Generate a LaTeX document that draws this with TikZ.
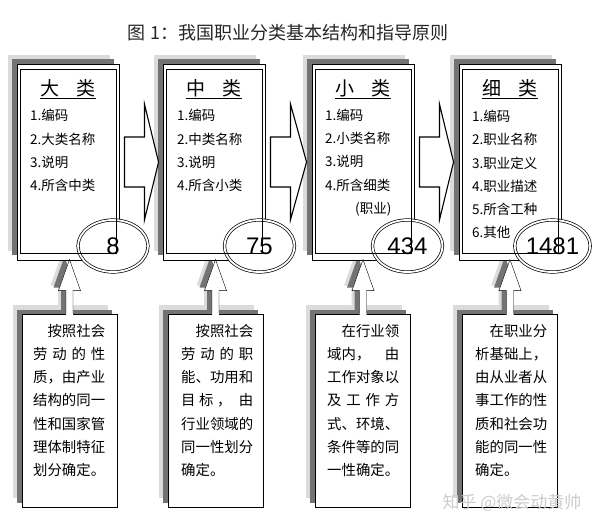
\documentclass[tikz,border=0pt]{standalone}
\usepackage{fontspec}
\setmainfont{Noto Sans CJK SC}
\newfontfamily\arialfont{Liberation Sans}
\usetikzlibrary{shapes.geometric,calc,backgrounds}

\begin{document}
\begin{tikzpicture}[x=1pt,y=-1pt,line width=0.9pt,
  topbox/.style={draw,fill=white,minimum width=102pt,minimum height=196pt,inner sep=0pt},
  basebox/.style={draw,fill=white,minimum width=95pt,minimum height=193pt,inner sep=0pt},
  darkshade/.style={fill=black!55},
  lightshade/.style={fill=black!14},
  numell/.style={ellipse,draw,double,double distance=1.8pt,line width=0.7pt,fill=white,
    minimum width=70pt,minimum height=52pt,inner sep=0pt,font=\arialfont\fontsize{24}{24}\selectfont},
  headtext/.style={font=\fontsize{19}{19}\selectfont},
  itemtext/.style={anchor=west,align=left,inner sep=0pt,font=\fontsize{13.5}{23.3}\selectfont},
  basetext/.style={anchor=west,align=left,inner sep=0pt,font=\fontsize{14.4}{23.3}\selectfont},
  blockarrow/.style={draw=black,line width=1.1pt,fill=white}]
\useasboundingbox (0,0) rectangle (600,531);

% title
\node[font=\fontsize{18}{18}\selectfont,text=black!85] (biaoti) at (288,33) {图 1：我国职业分类基本结构和指导原则};

% top boxes
\node[topbox] (dalei) at (68,162) {};
\node[topbox] (zhonglei) at (214,162) {};
\node[topbox] (xiaolei) at (363,162) {};
\node[topbox] (xilei) at (510,162) {};

% bottom boxes
\node[basebox] (yuanze1) at (69.5,410.5) {};
\node[basebox] (yuanze2) at (215.5,410.5) {};
\node[basebox] (yuanze3) at (363,410.5) {};
\node[basebox] (yuanze4) at (510,410.5) {};

% shadows
\begin{pgfonlayer}{background}
\fill[lightshade] ([shift={(-9,-9)}]dalei.north west) rectangle ([shift={(-9,-9)}]dalei.south east);
\fill[lightshade] ([shift={(-9,-9)}]zhonglei.north west) rectangle ([shift={(-9,-9)}]zhonglei.south east);
\fill[lightshade] ([shift={(-9,-9)}]xiaolei.north west) rectangle ([shift={(-9,-9)}]xiaolei.south east);
\fill[lightshade] ([shift={(-9,-9)}]xilei.north west) rectangle ([shift={(-9,-9)}]xilei.south east);
\fill[lightshade] ([shift={(-9,-9)}]yuanze1.north west) rectangle ([shift={(-9,-9)}]yuanze1.south east);
\fill[lightshade] ([shift={(-9,-9)}]yuanze2.north west) rectangle ([shift={(-9,-9)}]yuanze2.south east);
\fill[lightshade] ([shift={(-9,-9)}]yuanze3.north west) rectangle ([shift={(-9,-9)}]yuanze3.south east);
\fill[lightshade] ([shift={(-9,-9)}]yuanze4.north west) rectangle ([shift={(-9,-9)}]yuanze4.south east);
\fill[darkshade] ([shift={(-5,-5)}]dalei.north west) rectangle ([shift={(-5,-5)}]dalei.south east);
\fill[darkshade] ([shift={(-5,-5)}]zhonglei.north west) rectangle ([shift={(-5,-5)}]zhonglei.south east);
\fill[darkshade] ([shift={(-5,-5)}]xiaolei.north west) rectangle ([shift={(-5,-5)}]xiaolei.south east);
\fill[darkshade] ([shift={(-5,-5)}]xilei.north west) rectangle ([shift={(-5,-5)}]xilei.south east);
\fill[darkshade] ([shift={(-5,-4)}]yuanze1.north west) rectangle ([shift={(-5,-4)}]yuanze1.south east);
\fill[darkshade] ([shift={(-5,-4)}]yuanze2.north west) rectangle ([shift={(-5,-4)}]yuanze2.south east);
\fill[darkshade] ([shift={(-5,-4)}]yuanze3.north west) rectangle ([shift={(-5,-4)}]yuanze3.south east);
\fill[darkshade] ([shift={(-5,-4)}]yuanze4.north west) rectangle ([shift={(-5,-4)}]yuanze4.south east);
% shadows of the up arrows
\begin{scope}[shift={($(yuanze1.north)+(-8,-5)$)}]
\fill[lightshade] (-3.5,0) -- (-3.5,-23) -- (-11,-23) -- (0,-54) -- (11,-23) -- (3.5,-23) -- (3.5,0) -- cycle;
\end{scope}
\begin{scope}[shift={($(yuanze2.north)+(-8,-5)$)}]
\fill[lightshade] (-3.5,0) -- (-3.5,-23) -- (-11,-23) -- (0,-54) -- (11,-23) -- (3.5,-23) -- (3.5,0) -- cycle;
\end{scope}
\begin{scope}[shift={($(yuanze3.north)+(-8,-5)$)}]
\fill[lightshade] (-3.5,0) -- (-3.5,-23) -- (-11,-23) -- (0,-54) -- (11,-23) -- (3.5,-23) -- (3.5,0) -- cycle;
\end{scope}
\begin{scope}[shift={($(yuanze4.north)+(-8,-5)$)}]
\fill[lightshade] (-3.5,0) -- (-3.5,-23) -- (-11,-23) -- (0,-54) -- (11,-23) -- (3.5,-23) -- (3.5,0) -- cycle;
\end{scope}
\begin{scope}[shift={($(yuanze1.north)+(-5,-3)$)}]
\fill[darkshade] (-3.5,0) -- (-3.5,-23) -- (-11,-23) -- (0,-54) -- (11,-23) -- (3.5,-23) -- (3.5,0) -- cycle;
\end{scope}
\begin{scope}[shift={($(yuanze2.north)+(-5,-3)$)}]
\fill[darkshade] (-3.5,0) -- (-3.5,-23) -- (-11,-23) -- (0,-54) -- (11,-23) -- (3.5,-23) -- (3.5,0) -- cycle;
\end{scope}
\begin{scope}[shift={($(yuanze3.north)+(-5,-3)$)}]
\fill[darkshade] (-3.5,0) -- (-3.5,-23) -- (-11,-23) -- (0,-54) -- (11,-23) -- (3.5,-23) -- (3.5,0) -- cycle;
\end{scope}
\begin{scope}[shift={($(yuanze4.north)+(-5,-3)$)}]
\fill[darkshade] (-3.5,0) -- (-3.5,-23) -- (-11,-23) -- (0,-54) -- (11,-23) -- (3.5,-23) -- (3.5,0) -- cycle;
\end{scope}
\end{pgfonlayer}

% counts
\node[numell] (n8) at (113,246) {8};
\node[numell] (n75) at (259.5,246) {75};
\node[numell] (n434) at (407.5,246) {434};
\node[numell] (n1481) at (552.5,246) {1481};

% inner frames
\draw ($(dalei.north west)+(4,6)$) rectangle ($(dalei.south east)+(-3,-7)$);
\draw ($(zhonglei.north west)+(4,6)$) rectangle ($(zhonglei.south east)+(-3,-7)$);
\draw ($(xiaolei.north west)+(4,6)$) rectangle ($(xiaolei.south east)+(-3,-7)$);
\draw ($(xilei.north west)+(4,6)$) rectangle ($(xilei.south east)+(-3,-7)$);

% headings
\node[headtext] (tdalei) at (68,89) {\underline{大\hspace{0.9em}类}};
\node[headtext] (tzhonglei) at (214,89) {\underline{中\hspace{0.9em}类}};
\node[headtext] (txiaolei) at (363,89) {\underline{小\hspace{0.9em}类}};
\node[headtext] (txilei) at (510,89) {\underline{细\hspace{0.9em}类}};

% items
\node[itemtext] (idalei) at (30,150.75) {1.编码\\2.大类名称\\3.说明\\4.所含中类};
\node[itemtext] (izhonglei) at (177,150.75) {1.编码\\2.中类名称\\3.说明\\4.所含小类};
\node[itemtext] (ixiaolei) at (325,162.5) {1.编码\\2.小类名称\\3.说明\\4.所含细类\\\hspace*{30pt}(职业)};
\node[itemtext] (ixilei) at (472,174.5) {1.编码\\2.职业名称\\3.职业定义\\4.职业描述\\5.所含工种\\6.其他};

% right arrows
\draw[blockarrow] ($(dalei.east)+(5,-25)$) -- ($(dalei.east)+(25,-25)$) -- ($(dalei.east)+(25,-58)$)
  -- ($(zhonglei.west)+(-4,0)$) -- ($(dalei.east)+(25,58)$) -- ($(dalei.east)+(25,25)$)
  -- ($(dalei.east)+(5,25)$) -- cycle;
\draw[blockarrow] ($(zhonglei.east)+(5,-25)$) -- ($(zhonglei.east)+(25,-25)$) -- ($(zhonglei.east)+(25,-58)$)
  -- ($(xiaolei.west)+(-5,0)$) -- ($(zhonglei.east)+(25,58)$) -- ($(zhonglei.east)+(25,25)$)
  -- ($(zhonglei.east)+(5,25)$) -- cycle;
\draw[blockarrow] ($(xiaolei.east)+(5,-25)$) -- ($(xiaolei.east)+(25,-25)$) -- ($(xiaolei.east)+(25,-58)$)
  -- ($(xilei.west)+(-5,0)$) -- ($(xiaolei.east)+(25,58)$) -- ($(xiaolei.east)+(25,25)$)
  -- ($(xiaolei.east)+(5,25)$) -- cycle;

% up arrows
\begin{scope}[shift={(yuanze1.north)}]
\fill[white] (-3.5,2) -- (-3.5,-23) -- (-11,-23) -- (0,-54) -- (11,-23) -- (3.5,-23) -- (3.5,2) -- cycle;
\draw (-3.5,0) -- (-3.5,-23) -- (-11,-23) -- (0,-54) -- (11,-23) -- (3.5,-23) -- (3.5,0);
\end{scope}
\begin{scope}[shift={(yuanze2.north)}]
\fill[white] (-3.5,2) -- (-3.5,-23) -- (-11,-23) -- (0,-54) -- (11,-23) -- (3.5,-23) -- (3.5,2) -- cycle;
\draw (-3.5,0) -- (-3.5,-23) -- (-11,-23) -- (0,-54) -- (11,-23) -- (3.5,-23) -- (3.5,0);
\end{scope}
\begin{scope}[shift={(yuanze3.north)}]
\fill[white] (-3.5,2) -- (-3.5,-23) -- (-11,-23) -- (0,-54) -- (11,-23) -- (3.5,-23) -- (3.5,2) -- cycle;
\draw (-3.5,0) -- (-3.5,-23) -- (-11,-23) -- (0,-54) -- (11,-23) -- (3.5,-23) -- (3.5,0);
\end{scope}
\begin{scope}[shift={(yuanze4.north)}]
\fill[white] (-3.5,2) -- (-3.5,-23) -- (-11,-23) -- (0,-54) -- (11,-23) -- (3.5,-23) -- (3.5,2) -- cycle;
\draw (-3.5,0) -- (-3.5,-23) -- (-11,-23) -- (0,-54) -- (11,-23) -- (3.5,-23) -- (3.5,0);
\end{scope}

% principles
\node[basetext] (tyuanze1) at (33,400.5) {\makebox[5em][r]{按照社会}\\\makebox[5em][s]{劳 动 的 性}\\质，由产业\\结构的同一\\性和国家管\\理体制特征\\划分确定。};
\node[basetext] (tyuanze2) at (181,400.5) {\makebox[5em][r]{按照社会}\\\makebox[5em][s]{劳 动 的 职}\\能、功用和\\\makebox[5em]{目\hfill 标\hfill ，\hfill\hfill 由}\\行业领域的\\同一性划分\\确定。};
\node[basetext] (tyuanze3) at (327,400.5) {\makebox[5em][r]{在行业领}\\\makebox[5em]{域内，\hfill 由}\\工作对象以\\\makebox[5em][s]{及 工 作 方}\\式、环境、\\条件等的同\\一性确定。};
\node[basetext] (tyuanze4) at (475,400.5) {\makebox[5em][r]{在职业分}\\析基础上，\\由从业者从\\事工作的性\\质和社会功\\能的同一性\\确定。};

% watermark
\node[text=gray!40,font=\fontsize{17}{17}\selectfont] (shuiyin) at (512,503) {知乎 @微会动黄帅};
\end{tikzpicture}
\end{document}
